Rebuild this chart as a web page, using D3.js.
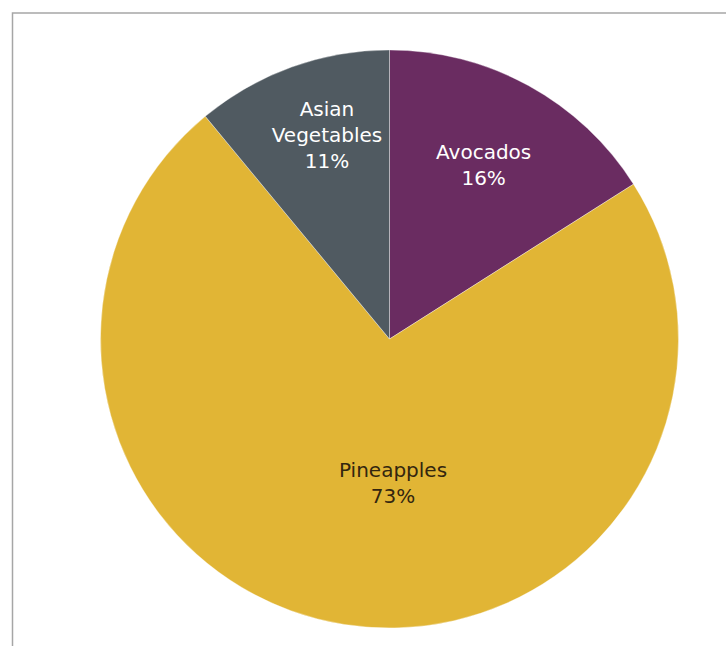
<!DOCTYPE html>
<html>
<head>
<meta charset="utf-8">
<script src="https://cdn.jsdelivr.net/npm/d3@7"></script>
<style>
  html, body { margin: 0; padding: 0; background: #ffffff; }
  svg { display: block; }
</style>
</head>
<body>
<svg id="chart" width="726" height="646"></svg>
<script>
// Share of production by crop
const categories = ["Avocados", "Pineapples", "Asian Vegetables"];
const shares = [16, 73, 11];
const sliceColors = ["#6a2c61", "#e1b535", "#505a61"];
const labelColors = ["#ffffff", "#33260f", "#ffffff"];

const svg = d3.select("#chart");

// outer frame, open to the right and bottom
svg.append("path")
  .attr("d", "M12.5,646 L12.5,13 L726,13")
  .attr("fill", "none")
  .attr("stroke", "#a6a6a6")
  .attr("stroke-width", 1.5);

const cx = 389.5, cy = 339, R = 289;

const data = categories.map((c, i) => ({ name: c, value: shares[i], i }));

const pie = d3.pie().sort(null).value(d => d.value);
const arcs = pie(data);

const arc = d3.arc().innerRadius(0).outerRadius(R);

const g = svg.append("g").attr("transform", `translate(${cx},${cy})`);

g.selectAll("path.slice")
  .data(arcs)
  .join("path")
  .attr("class", "slice")
  .attr("d", arc)
  .attr("fill", d => sliceColors[d.data.i])
  .attr("stroke", "#ffffff")
  .attr("stroke-opacity", 0.35)
  .attr("stroke-width", 1);

// label placement: radius fraction and angular nudge (degrees) per slice
const labelLayout = {
  "Avocados": { f: 0.685, nudge: -0.4 },
  "Pineapples": { f: 0.5, nudge: -10.4 },
  "Asian Vegetables": { f: 0.74, nudge: 2.8 }
};
const lineH = 26;

arcs.forEach(a => {
  const lay = labelLayout[a.data.name];
  const mid = (a.startAngle + a.endAngle) / 2 + lay.nudge * Math.PI / 180;
  const r = R * lay.f;
  const x = r * Math.sin(mid);
  const y = -r * Math.cos(mid);
  const lines = a.data.name === "Asian Vegetables"
    ? ["Asian", "Vegetables", a.data.value + "%"]
    : [a.data.name, a.data.value + "%"];
  const t = g.append("text")
    .attr("text-anchor", "middle")
    .attr("font-family", "Verdana, 'DejaVu Sans', sans-serif")
    .attr("font-size", 20)
    .attr("fill", labelColors[a.data.i]);
  const y0 = y - (lines.length - 1) * lineH / 2;
  lines.forEach((ln, k) => {
    t.append("tspan")
      .attr("x", x)
      .attr("y", y0 + k * lineH)
      .attr("dy", "0.35em")
      .text(ln);
  });
});
</script>
</body>
</html>
